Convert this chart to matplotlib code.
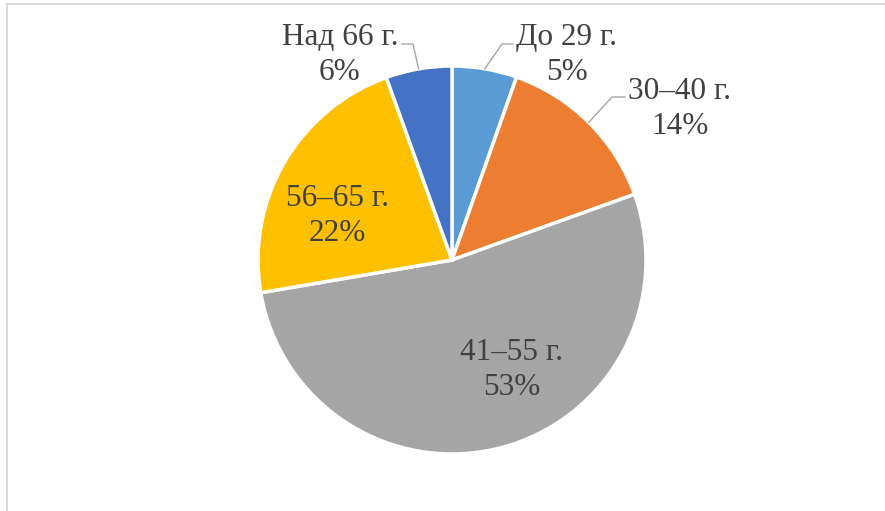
import numpy as np
import matplotlib
matplotlib.use("Agg")
import matplotlib.pyplot as plt
from matplotlib.patches import Rectangle

# Age groups, clockwise from 12 o'clock
groups = ["До 29 г.", "30–40 г.", "41–55 г.", "56–65 г.", "Над 66 г."]
shares = [5.4, 14.1, 52.8, 22.2, 5.5]
pct_labels = ["5%", "14%", "53%", "22%", "6%"]
colors = ["#5B9BD5", "#ED7D31", "#A5A5A5", "#FFC000", "#4472C4"]

W, H = 885, 511
fig = plt.figure(figsize=(W / 100, H / 100), dpi=100)
ax = fig.add_axes([0, 0, 1, 1])

center = (452, 251)
radius = 194
wedges, _ = ax.pie(
    shares,
    colors=colors,
    startangle=90,
    counterclock=False,
    center=center,
    radius=radius,
    wedgeprops=dict(edgecolor="white", linewidth=2.5),
    frame=True,
)
ax.set_xlim(0, W)
ax.set_ylim(0, H)
ax.axis("off")

# chart area border (runs off the right / bottom of the crop)
ax.add_patch(Rectangle((7, -20), W + 20, H + 20 - 4, fill=False,
                       edgecolor="#D9D9D9", linewidth=1.5, clip_on=False))

txt = dict(fontsize=22.5, family="Liberation Serif", color="#404040",
           ha="center", va="center", linespacing=1.25)

# label positions (pixel coords, y from bottom) and leader elbows
outside = {
    0: dict(xy=(567, H - 55), elbow=(502, H - 44), end=(513, H - 44)),
    1: dict(xy=(680, H - 109), elbow=(612, H - 97), end=(625, H - 97)),
    4: dict(xy=(340, H - 55), elbow=(413, H - 44), end=(402, H - 44)),
}
inside = {2: (512, H - 370), 3: (337, H - 216)}

for i, w in enumerate(wedges):
    label = f"{groups[i]}\n{pct_labels[i]}"
    if i in outside:
        o = outside[i]
        mid = np.deg2rad((w.theta1 + w.theta2) / 2)
        start = (center[0] + radius * np.cos(mid), center[1] + radius * np.sin(mid))
        ax.plot([start[0], o["elbow"][0], o["end"][0]],
                [start[1], o["elbow"][1], o["end"][1]],
                color="#A6A6A6", linewidth=1)
        ax.text(*o["xy"], label, **txt)
    else:
        ax.text(*inside[i], label, **txt)

fig.savefig("out.png", dpi=100, facecolor="white")
